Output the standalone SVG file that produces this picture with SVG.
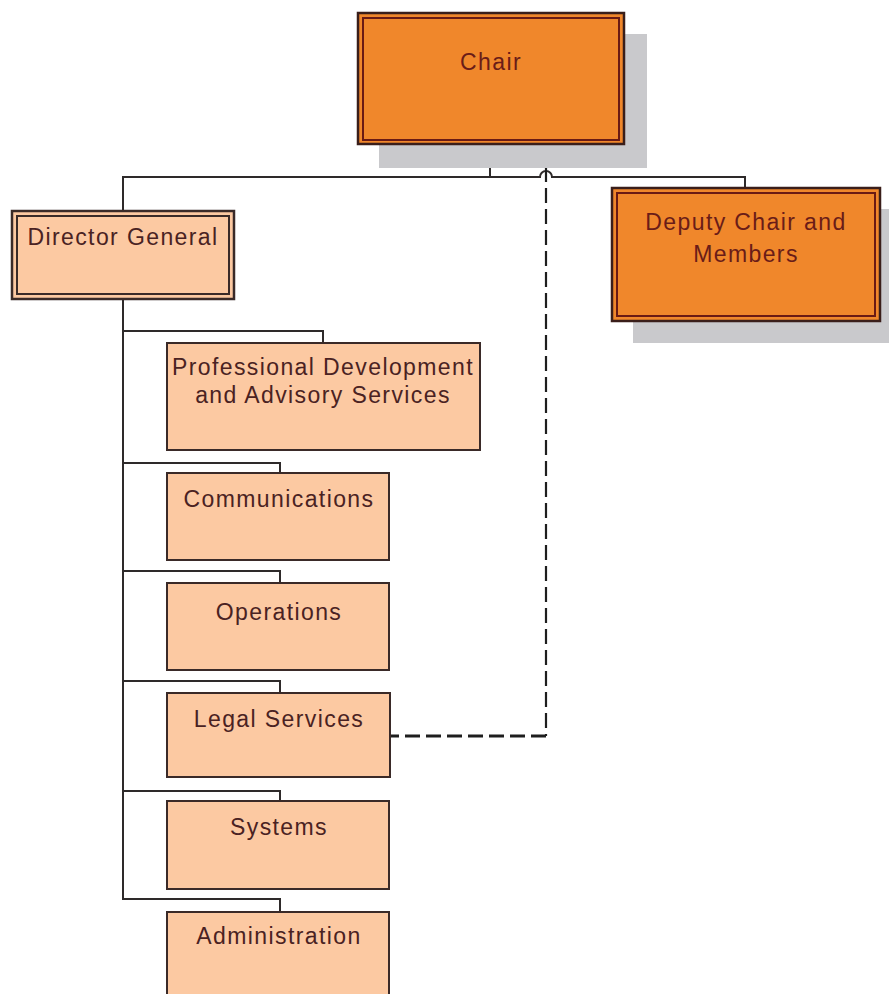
<svg xmlns="http://www.w3.org/2000/svg" width="889" height="994" viewBox="0 0 889 994">
<style>
.shadow{fill:#c9c9cc}
.top{fill:#f0872b;stroke:#3a1e1a;stroke-width:2.5}
.topin{fill:none;stroke:#6a1a14;stroke-width:2}
.dg{fill:#fcc9a2;stroke:#3a2a28;stroke-width:2.5}
.dgin{fill:none;stroke:#3a2a28;stroke-width:2}
.unit{fill:#fcc9a2;stroke:#3a2a28;stroke-width:2}
.t{font-family:"Liberation Sans",Arial,sans-serif;font-size:23px;letter-spacing:1.4px;text-anchor:middle}
.tr{fill:#6a1c18}
.tb{fill:#4a2222}
.ln{fill:none;stroke:#2e2a2a;stroke-width:2}
.dash{fill:none;stroke:#1e1e1e;stroke-dasharray:15 6}
</style>
<rect width="889" height="994" fill="#ffffff"/>
<g id="connectors">
<path class="ln" d="M490 144V177"/>
<path class="ln" d="M123 211V177H540A6 6 0 0 1 552 177H745V188"/>
<path class="ln" d="M123 299V899H280V912"/>
<path class="ln" d="M123 331H323V343"/>
<path class="ln" d="M123 463H280V473"/>
<path class="ln" d="M123 571H280V583"/>
<path class="ln" d="M123 681H280V693"/>
<path class="ln" d="M123 791H280V801"/>
<path class="dash" stroke-width="2.2" d="M546 146V736"/>
<path class="dash" stroke-width="3" d="M546 736H391"/>
</g>
<g id="chair">
<rect class="shadow" x="379" y="34" width="268" height="134"/>
<rect class="top" x="358" y="13" width="266" height="131"/>
<rect class="topin" x="363" y="18" width="256" height="122"/>
<text class="t tr" x="491" y="70">Chair</text>
</g>
<g id="deputy">
<rect class="shadow" x="633" y="209" width="268" height="134"/>
<rect class="top" x="612" y="188" width="268" height="133"/>
<rect class="topin" x="617" y="193" width="258" height="123"/>
<text class="t tr" x="746" y="230">Deputy Chair and</text>
<text class="t tr" x="746" y="262">Members</text>
</g>
<g id="director-general">
<rect class="dg" x="12" y="211" width="222" height="88"/>
<rect class="dgin" x="17" y="216" width="212" height="78"/>
<text class="t tb" x="123" y="245">Director General</text>
</g>
<g id="professional">
<rect class="unit" x="167" y="343" width="313" height="107"/>
<text class="t tb" x="323" y="375">Professional Development</text>
<text class="t tb" x="323" y="403">and Advisory Services</text>
</g>
<g id="communications">
<rect class="unit" x="167" y="473" width="222" height="87"/>
<text class="t tb" x="279" y="507">Communications</text>
</g>
<g id="operations">
<rect class="unit" x="167" y="583" width="222" height="87"/>
<text class="t tb" x="279" y="620">Operations</text>
</g>
<g id="legal">
<rect class="unit" x="167" y="693" width="223" height="84"/>
<text class="t tb" x="279" y="727">Legal Services</text>
</g>
<g id="systems">
<rect class="unit" x="167" y="801" width="222" height="88"/>
<text class="t tb" x="279" y="835">Systems</text>
</g>
<g id="administration">
<rect class="unit" x="167" y="912" width="222" height="100"/>
<text class="t tb" x="279" y="944">Administration</text>
</g>
</svg>
